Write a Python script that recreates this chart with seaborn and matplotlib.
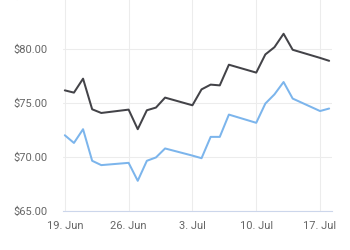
import matplotlib
matplotlib.use("Agg")
import matplotlib.pyplot as plt
import matplotlib.dates as mdates
import seaborn as sns
import pandas as pd
import numpy as np

dates = ["2017-06-19", "2017-06-20", "2017-06-21", "2017-06-22", "2017-06-23",
         "2017-06-26", "2017-06-27", "2017-06-28", "2017-06-29", "2017-06-30",
         "2017-07-03", "2017-07-04", "2017-07-05", "2017-07-06", "2017-07-07",
         "2017-07-10", "2017-07-11", "2017-07-12", "2017-07-13", "2017-07-14",
         "2017-07-17", "2017-07-18"]
series_dark = [76.15, 75.94, 77.23, 74.40, 74.06,
               74.37, 72.56, 74.31, 74.56, 75.48,
               74.77, 76.24, 76.68, 76.61, 78.52,
               77.79, 79.47, 80.14, 81.38, 79.90,
               79.15, 78.88]
series_light = [72.00, 71.29, 72.56, 69.64, 69.24,
                69.45, 67.79, 69.64, 69.95, 70.78,
                70.12, 69.88, 71.85, 71.85, 73.91,
                73.15, 74.93, 75.78, 76.92, 75.39,
                74.24, 74.47]
x_ticks = ["2017-06-19", "2017-06-26", "2017-07-03", "2017-07-10", "2017-07-17"]
y_ticks = [65, 70, 75, 80, 85]

df = pd.DataFrame({
    "date": pd.to_datetime(dates * 2),
    "value": series_dark + series_light,
    "series": ["dark"] * len(dates) + ["light"] * len(dates),
})

sns.set_theme(style="white")
plt.rcParams["font.family"] = ["Roboto", "DejaVu Sans"]

fig = plt.figure(figsize=(3.5, 2.5), dpi=100)
ax = fig.add_axes([63 / 350, 1 - 211 / 250, (331.7 - 63) / 350, (211 + 5.4) / 250])

sns.lineplot(data=df, x="date", y="value", hue="series",
             palette={"dark": "#434348", "light": "#7cb5ec"},
             linewidth=1.45, legend=False, ax=ax)

d0 = pd.Timestamp(dates[0])
d1 = pd.Timestamp(dates[-1])
ax.set_xlim(mdates.date2num(d0) - 0.2, mdates.date2num(d1) + 0.28)
ax.set_ylim(65, 85)

ax.set_xticks([mdates.date2num(pd.Timestamp(t)) for t in x_ticks])
ax.set_xticklabels([f"{pd.Timestamp(t).day}. {pd.Timestamp(t).strftime('%b')}" for t in x_ticks])
ax.set_yticks(y_ticks)
ax.set_yticklabels([f"${v:.2f}" for v in y_ticks])

ax.grid(True, color="#ececec", linewidth=0.75)
ax.set_axisbelow(True)
for s in ["top", "right", "left"]:
    ax.spines[s].set_visible(False)
ax.spines["bottom"].set_color("#ccd6eb")
ax.spines["bottom"].set_linewidth(0.8)

ax.tick_params(axis="x", length=5, width=0.8, color="#ccd6eb", pad=2.5,
               labelsize=8, labelcolor="#666666", direction="out")
ax.tick_params(axis="y", length=0, pad=11, labelsize=8, labelcolor="#666666")
ax.set_xlabel("")
ax.set_ylabel("")

fig.savefig("out.png", dpi=100)
